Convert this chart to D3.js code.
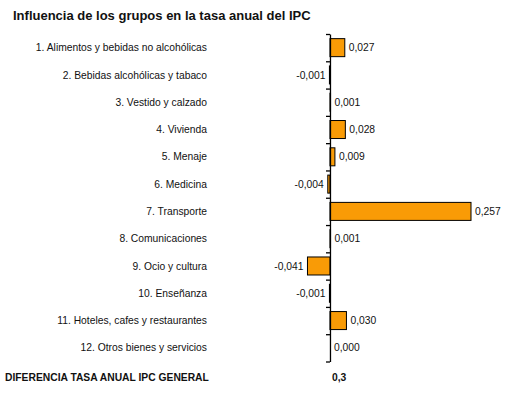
<!DOCTYPE html>
<html>
<head>
<meta charset="utf-8">
<script src="https://cdn.jsdelivr.net/npm/d3@7"></script>
<style>
  body { margin: 0; background: #fff; }
  svg { display: block; font-family: "Liberation Sans", Arial, sans-serif; }
</style>
</head>
<body>
<svg id="chart"></svg>
<script>
// Chart data
const categories = [
    "1. Alimentos y bebidas no alcohólicas",
    "2. Bebidas alcohólicas y tabaco",
    "3. Vestido y calzado",
    "4. Vivienda",
    "5. Menaje",
    "6. Medicina",
    "7. Transporte",
    "8. Comunicaciones",
    "9. Ocio y cultura",
    "10. Enseñanza",
    "11. Hoteles, cafes y restaurantes",
    "12. Otros bienes y servicios"
];
const values = [0.027, -0.001, 0.001, 0.028, 0.009, -0.004, 0.257, 0.001, -0.041, -0.001, 0.030, 0.000];
const titleText = "Influencia de los grupos en la tasa anual del IPC";
const totalLabel = "DIFERENCIA TASA ANUAL IPC GENERAL";
const totalValue = 0.3;

// Dimensions
const width = 514, height = 397;
const plot = { top: 34, bottom: 361.5 };
const label_size = "10.3px";

const svg = d3.select("#chart")
    .attr("width", width)
    .attr("height", height);

svg.append("rect")
    .attr("width", width)
    .attr("height", height)
    .attr("fill", "#fff");

// Scales
const x_scale = d3.scaleLinear()
    .domain([-0.1, 0.3])
    .range([275.1, 494.6]);

const y_scale = d3.scaleBand()
    .domain(categories)
    .range([plot.top, plot.bottom])
    .paddingInner(0.34)
    .paddingOuter(0.17);

// Comma decimal formatting (Spanish)
const fmt = function (v, digits) {
    return d3.format("." + digits + "f")(v).replace(".", ",").replace("−", "-");
};

// Title
svg.append("text")
    .attr("x", 13)
    .attr("y", 19.5)
    .attr("font-size", "13px")
    .attr("font-weight", "bold")
    .attr("fill", "#111")
    .text(titleText);

// Bars
svg.append("g")
    .selectAll("rect")
    .data(values)
    .enter().append("rect")
    .attr("x", function (d) { return x_scale(Math.min(0, d)); })
    .attr("y", function (d, i) { return y_scale(categories[i]); })
    .attr("width", function (d) { return Math.abs(x_scale(d) - x_scale(0)); })
    .attr("height", y_scale.bandwidth())
    .attr("fill", "#f99b06")
    .attr("stroke", "#000")
    .attr("stroke-width", 1);

// Vertical axis with ticks between categories
const tick_scale = d3.scaleLinear()
    .domain([0, categories.length])
    .range([plot.top, plot.top + y_scale.step() * categories.length]);

svg.append("g")
    .attr("transform", "translate(" + x_scale(0) + ",0)")
    .call(d3.axisLeft(tick_scale)
        .tickValues(d3.range(categories.length + 1))
        .tickSizeInner(4)
        .tickSizeOuter(0)
        .tickFormat(""))
    .call(function (g) { g.selectAll("path, line").attr("stroke", "#000").attr("stroke-width", 1.3); });

// Category labels
svg.append("g")
    .selectAll("text")
    .data(categories)
    .enter().append("text")
    .attr("x", 207)
    .attr("y", function (d) { return y_scale(d) + y_scale.bandwidth() / 2; })
    .attr("dy", "0.35em")
    .attr("text-anchor", "end")
    .attr("font-size", label_size)
    .attr("fill", "#111")
    .text(function (d) { return d; });

// Value labels
svg.append("g")
    .selectAll("text")
    .data(values)
    .enter().append("text")
    .attr("x", function (d) { return d < 0 ? x_scale(d) - 4 : x_scale(d) + 4; })
    .attr("y", function (d, i) { return y_scale(categories[i]) + y_scale.bandwidth() / 2; })
    .attr("dy", "0.35em")
    .attr("text-anchor", function (d) { return d < 0 ? "end" : "start"; })
    .attr("font-size", label_size)
    .attr("fill", "#111")
    .text(function (d) { return fmt(d, 3); });

// General difference footer
svg.append("text")
    .attr("x", 5)
    .attr("y", 377)
    .attr("dy", "0.35em")
    .attr("font-size", label_size)
    .attr("font-weight", "bold")
    .attr("fill", "#111")
    .text(totalLabel);

svg.append("text")
    .attr("x", 332)
    .attr("y", 377)
    .attr("dy", "0.35em")
    .attr("font-size", label_size)
    .attr("font-weight", "bold")
    .attr("fill", "#111")
    .text(fmt(totalValue, 1));
</script>
</body>
</html>
